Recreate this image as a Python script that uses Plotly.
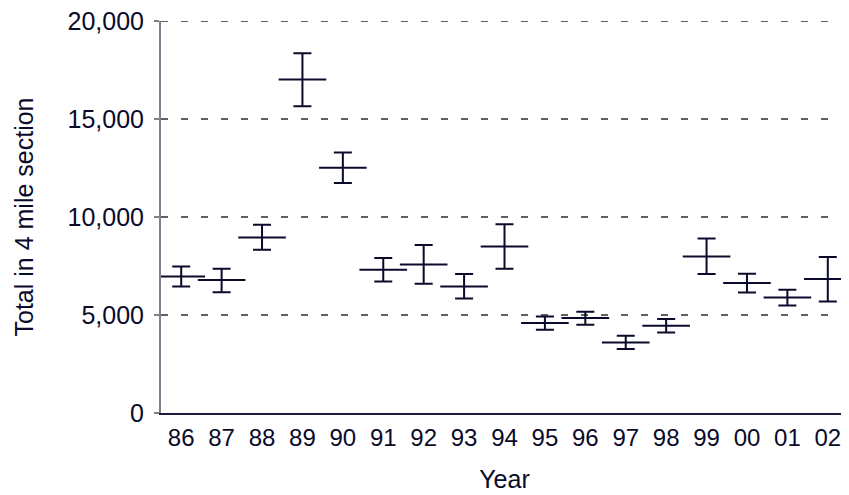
import plotly.graph_objects as go

years = ["86", "87", "88", "89", "90", "91", "92", "93", "94", "95", "96", "97", "98", "99", "00", "01", "02"]
mean_vals = [6970, 6790, 8960, 17020, 12520, 7310, 7580, 6460, 8500, 4590, 4850, 3600, 4450, 7990, 6630, 5900, 6840]
upper_vals = [7480, 7360, 9610, 18370, 13300, 7910, 8570, 7090, 9640, 4930, 5170, 3940, 4800, 8910, 7110, 6290, 7960]
lower_vals = [6460, 6170, 8330, 15660, 11740, 6710, 6600, 5850, 7360, 4250, 4510, 3270, 4110, 7090, 6150, 5490, 5690]
y_ticks = [0, 5000, 10000, 15000, 20000]
y_tick_labels = ["0", "5,000", "10,000", "15,000", "20,000"]

ink = "#0a0a2a"
grid_col = "#606060"
err_plus = [u - m for u, m in zip(upper_vals, mean_vals)]
err_minus = [m - l for m, l in zip(mean_vals, lower_vals)]

fig = go.Figure()
fig.add_trace(go.Scatter(
    x=years, y=mean_vals, mode="markers",
    marker=dict(symbol="line-ew", size=34, line=dict(width=2, color=ink), color=ink),
    error_y=dict(type="data", symmetric=False, array=err_plus, arrayminus=err_minus,
                 thickness=2, width=9, color=ink),
    showlegend=False, hoverinfo="skip",
))

# top gridline (plotly omits the gridline at the very edge of the range)
fig.add_shape(type="line", xref="paper", yref="y", x0=0, x1=1,
              y0=y_ticks[-1], y1=y_ticks[-1],
              line=dict(color=grid_col, width=1.5, dash="7px,13px"), layer="below")

font_family = "Liberation Sans, Arial, sans-serif"
# page body has an 8px margin, so the figure is 8px smaller than the window
fig.update_layout(
    width=841, height=487,
    margin=dict(l=153, r=1, t=13, b=82),
    paper_bgcolor="white", plot_bgcolor="white",
    font=dict(family=font_family, color=ink, size=25),
    xaxis=dict(
        type="category", range=[-0.5, len(years) - 0.5],
        showgrid=False, showline=True, linecolor="#1a1a3a", linewidth=1.5,
        ticks="", tickfont=dict(size=24), ticklabelstandoff=2,
        title=dict(text="Year", font=dict(size=25), standoff=21),
    ),
    yaxis=dict(
        range=[0, 20010], tickvals=y_ticks, ticktext=y_tick_labels,
        showgrid=True, gridcolor=grid_col, griddash="7px,13px", gridwidth=1.5,
        zeroline=False, showline=True, linecolor="#80808f", linewidth=2,
        ticks="outside", ticklen=5, tickcolor="#80808f", tickwidth=1.5,
        tickfont=dict(size=25), ticklabelstandoff=5, ticklabeloverflow="allow",
        automargin=False,
        title=dict(text="Total in 4 mile section", font=dict(size=25), standoff=27),
    ),
)
fig.write_html("out.html")
